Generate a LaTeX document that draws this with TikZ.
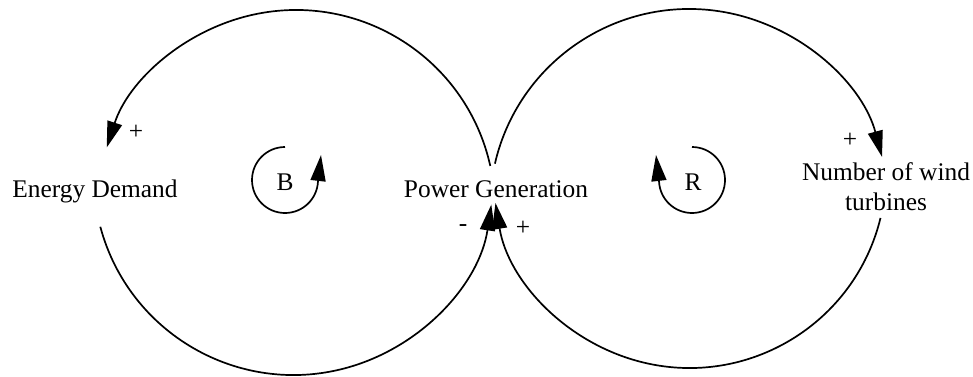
\documentclass[tikz,border=0pt]{standalone}
\usepackage{fontspec}
\setmainfont{Liberation Serif}
\usepackage{tikz}
\usetikzlibrary{arrows.meta,calc}
\tikzset{
  varnode/.style={
    font=\fontsize{12.7}{15}\selectfont, align=center, inner sep=0pt
  },
  looplabel/.style={
    font=\fontsize{12.7}{15}\selectfont, inner sep=0pt, anchor=base
  },
  signlabel/.style={
    font=\fontsize{12.7}{15}\selectfont, inner sep=0pt
  },
  link/.style={
    -{Triangle[length=13pt,width=7.5pt]}, line width=0.85pt
  },
  looparr/.style={
    -{Triangle[length=13pt,width=7.5pt]}, line width=0.85pt
  }
}

\begin{document}
\begin{tikzpicture}[x=0.5pt,y=0.5pt]
\useasboundingbox (0,0) rectangle (973,376);

% variables
\node[varnode, anchor=base] (ed) at (95,179) {Energy Demand};
\node[varnode, anchor=base] (pg) at (496,179) {Power Generation};
\node[varnode] (nw) at (886,189) {Number of wind\\turbines};

% centros de los arcos
\coordinate (cLt) at (296,167);
\coordinate (cLb) at (293.5,201);
\coordinate (cRt) at (689.3,167.5);
\coordinate (cRb) at (689.5,204.6);

% enlaces
\draw[link] ($(cLt)+(12.5:199)$) arc[start angle=12.5, end angle=162, radius=199];
\draw[link] ($(cLb)+(195:200)$) arc[start angle=195, end angle=351.5, radius=200];
\draw[link] ($(cRt)+(167:199.5)$) arc[start angle=167, end angle=15, radius=199.5];
\draw[link] ($(cRb)+(-13.7:196.6)$) arc[start angle=-13.7, end angle=-170.75, radius=196.6];

% signos
\node[signlabel] (s1) at (136,244) {+};
\node[signlabel] (s2) at (463,148) {-};
\node[signlabel] (s3) at (523,148) {+};
\node[signlabel] (s4) at (850,236) {+};

% bucles
\node[looplabel] (lb) at (285,186) {B};
\node[looplabel] (lr) at (693,186) {R};
\coordinate (bTip) at (321,221);
\coordinate (rTip) at (656,221);
\draw[looparr] (285,229) arc[start angle=90, end angle=357, radius=33] -- (bTip);
\draw[looparr] (692,229) arc[start angle=90, end angle=-177, radius=33] -- (rTip);
\end{tikzpicture}
\end{document}
